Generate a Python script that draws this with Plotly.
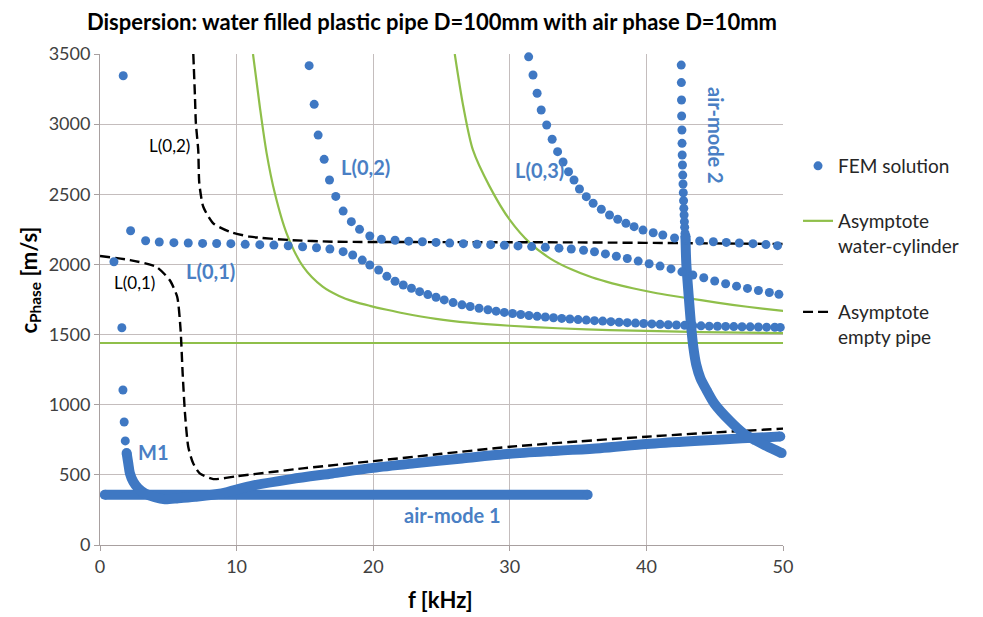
import plotly.graph_objects as go

BLUE = "#3f78c3"
LBLUE = "#4a7fc4"
GREEN = "#8fbf4a"
FONT = "Lato"

# ---------------- FEM solution: discrete dots ----------------
l01_f = [1.02, 2.24, 3.34, 4.34, 5.41, 6.46, 7.51, 8.54, 9.58, 10.63, 11.7, 12.73, 13.78, 14.83,
         15.85, 16.83, 17.8, 18.5, 19.2, 19.75, 20.4, 21.0, 21.6, 22.2, 22.8, 23.4, 24.0, 24.6,
         25.2, 25.85, 26.5, 27.1, 27.75, 28.4, 29.0, 29.6, 30.2, 30.8, 31.4, 32.0, 32.6, 33.2,
         33.8, 34.4, 35.0, 35.6, 36.2, 36.8, 37.4, 38.0, 38.6, 39.2, 39.8, 40.4, 41.0, 41.6,
         42.2, 42.8, 43.4, 44.0, 44.6, 45.2, 45.8, 46.4, 47.0, 47.6, 48.2, 48.8, 49.4, 49.8]
l01_c = [2019, 2240, 2169, 2160, 2155, 2153, 2150, 2149, 2148, 2143, 2141, 2138, 2133, 2126,
         2119, 2110, 2091, 2067, 2031, 1996, 1960, 1915, 1880, 1853, 1830, 1806, 1785, 1766,
         1747, 1728, 1712, 1700, 1688, 1677, 1667, 1658, 1650, 1643, 1636, 1630, 1625, 1620,
         1615, 1611, 1607, 1603, 1599, 1596, 1592, 1588, 1585, 1582, 1579, 1576, 1573, 1570,
         1568, 1566, 1564, 1562, 1560, 1559, 1558, 1557, 1556, 1555, 1554, 1553, 1552, 1551]

l02_f = [15.31, 15.68, 15.97, 16.41, 16.8, 17.26, 17.8, 18.4, 19.0, 19.75, 20.6, 21.6, 22.6,
         23.6, 24.6, 25.6, 26.6, 27.6, 28.6, 29.6, 30.6, 31.6, 32.6, 33.6, 34.5, 35.4, 36.2,
         37.0, 37.8, 38.6, 39.4, 40.2, 41.0, 41.8, 42.6, 43.4, 44.2, 45.0, 45.8, 46.6, 47.4,
         48.2, 49.0, 49.7]
l02_c = [3417, 3141, 2922, 2749, 2602, 2485, 2380, 2305, 2250, 2203, 2179, 2172, 2166,
         2162, 2157, 2152, 2148, 2144, 2141, 2137, 2132, 2127, 2122, 2116, 2110, 2101, 2090,
         2075, 2058, 2042, 2024, 2005, 1988, 1968, 1947, 1925, 1905, 1882, 1862, 1845, 1829,
         1814, 1800, 1787]

l03_f = [31.38, 31.7, 32.0, 32.3, 32.7, 33.1, 33.5, 33.9, 34.3, 34.7, 35.1, 35.6, 36.1, 36.7,
         37.3, 37.9, 38.5, 39.1, 39.75, 40.5, 41.2, 42.06, 42.9, 43.9, 44.9, 45.85, 46.8,
         47.8, 48.75, 49.6]
l03_c = [3480, 3350, 3220, 3101, 2994, 2892, 2804, 2730, 2661, 2602, 2538, 2483, 2436, 2393,
         2352, 2322, 2293, 2269, 2245, 2226, 2210, 2188, 2175, 2167, 2162, 2157, 2153,
         2148, 2142, 2134]

m1_f = [1.70, 1.60, 1.68, 1.77, 1.85]
m1_c = [3345, 1549, 1105, 877, 742]

air2_f = [42.55, 42.56, 42.57, 42.58, 42.60, 42.61, 42.62, 42.64, 42.66, 42.68, 42.70, 42.72,
          42.74, 42.76, 42.78, 42.80, 42.83, 42.86]
air2_c = [3421, 3296, 3172, 3058, 2958, 2863, 2780, 2709, 2637, 2573, 2511, 2454,
          2400, 2352, 2305, 2265, 2222, 2186]

# ---------------- FEM solution: dense (overlapping-dot) bands ----------------
air1_f = [0.35, 35.7]
air1_c = [358, 358]

m1band_f = [1.95, 2.07, 2.19, 2.44, 2.8, 3.29, 4.02, 4.75, 5.73, 6.95, 8.9, 11.0, 14.0, 17.0,
            20.0, 23.0, 26.5, 30.0, 33.5, 36.6, 40.0, 43.5, 47.0, 49.8]
m1band_c = [656, 582, 511, 451, 404, 368, 340, 326, 333, 344, 368, 420, 470, 510,
            550, 582, 617, 650, 672, 690, 720, 742, 760, 773]

air2band_f = [42.86, 42.92, 43.1, 43.3, 43.45, 43.65, 43.95, 44.4, 45.0, 46.1, 47.05, 48.0,
              48.8, 49.9]
air2band_c = [2200, 2008, 1770, 1533, 1400, 1285, 1190, 1105, 1005, 885, 800, 745, 705, 655]

# ---------------- Asymptotes: water cylinder ----------------
wc0_f = [0, 50.5]
wc0_c = [1440, 1440]
wc1_f = [11.2, 11.7, 12.2, 12.8, 13.66, 14.87, 16.3, 17.5, 18.6, 19.75, 21.0, 22.2, 24.6, 27.0,
         30.0, 33.5, 37.3, 44.0, 50.5]
wc1_c = [3500, 3124, 2792, 2507, 2222, 1984, 1841, 1775, 1735, 1705, 1677, 1652, 1612, 1585,
         1563, 1545, 1532, 1518, 1510]
wc2_f = [25.97, 26.6, 27.3, 28.5, 30.0, 31.5, 33.0, 34.5, 36.0, 37.5, 39.0, 40.5, 42.0, 44.0,
         46.3, 48.5, 50.5]
wc2_c = [3500, 3124, 2816, 2560, 2317, 2150, 2040, 1965, 1908, 1865, 1830, 1800, 1775, 1745,
         1712, 1685, 1663]

# ---------------- Asymptotes: empty pipe ----------------
ep1_f = [0, 2.2, 4.1, 5.1, 5.65, 5.9, 6.05, 6.22, 6.46, 6.82, 7.3, 8.3, 10, 15, 20, 25, 30,
         35, 40, 45, 50.5]
ep1_c = [2060, 2031, 1984, 1889, 1770, 1533, 1225, 940, 700, 582, 511, 470, 490, 548, 598,
         650, 700, 738, 772, 802, 832]
ep2_f = [6.83, 6.95, 7.02, 7.19, 7.27, 7.56, 8.29, 9.5, 10.97, 13.9, 17, 25, 35, 45, 50.5]
ep2_c = [3500, 3200, 3006, 2816, 2578, 2411, 2293, 2233, 2198, 2174, 2162, 2159, 2157, 2150, 2145]

x_ticks = [0, 10, 20, 30, 40, 50]
y_ticks = [0, 500, 1000, 1500, 2000, 2500, 3000, 3500]

fig = go.Figure()

# green asymptotes
for i, (fx, cy) in enumerate([(wc0_f, wc0_c), (wc1_f, wc1_c), (wc2_f, wc2_c)]):
    fig.add_trace(go.Scatter(
        x=fx, y=cy, mode="lines", line=dict(color=GREEN, width=2.2, shape="spline", smoothing=0.8),
        name="Asymptote<br>water-cylinder", legend="legend2", showlegend=(i == 0),
        hoverinfo="skip"))

# dashed asymptotes
for i, (fx, cy) in enumerate([(ep1_f, ep1_c), (ep2_f, ep2_c)]):
    fig.add_trace(go.Scatter(
        x=fx, y=cy, mode="lines",
        line=dict(color="black", width=2.4, dash="10px,5px", shape="spline", smoothing=0.6),
        name="Asymptote<br>empty pipe", legend="legend3", showlegend=(i == 0),
        hoverinfo="skip"))

# dense FEM bands
for fx, cy in [(air1_f, air1_c), (m1band_f, m1band_c), (air2band_f, air2band_c)]:
    fig.add_trace(go.Scatter(
        x=fx, y=cy, mode="lines",
        line=dict(color=BLUE, width=10, shape="spline", smoothing=0.8),
        showlegend=False, hoverinfo="skip"))
    fig.add_trace(go.Scatter(
        x=[fx[0], fx[-1]], y=[cy[0], cy[-1]], mode="markers",
        marker=dict(color=BLUE, size=10), cliponaxis=False,
        showlegend=False, hoverinfo="skip"))

# discrete FEM dots
dots = [(l01_f, l01_c), (l02_f, l02_c), (l03_f, l03_c), (m1_f, m1_c), (air2_f, air2_c)]
for i, (fx, cy) in enumerate(dots):
    fig.add_trace(go.Scatter(
        x=fx, y=cy, mode="markers", marker=dict(color=BLUE, size=9),
        cliponaxis=False, name="FEM solution", legend="legend",
        showlegend=(i == 0)))

# labels
ann = [
    dict(x=5.1, y=2845, text="L(0,2)", font=dict(size=17, color="black", family=FONT)),
    dict(x=2.56, y=1868, text="L(0,1)", font=dict(size=17, color="black", family=FONT)),
    dict(x=8.1, y=1953, text="<b>L(0,1)</b>", font=dict(size=20, color=LBLUE, family=FONT)),
    dict(x=19.45, y=2694, text="<b>L(0,2)</b>", font=dict(size=20, color=LBLUE, family=FONT)),
    dict(x=32.2, y=2673, text="<b>L(0,3)</b>", font=dict(size=20, color=LBLUE, family=FONT)),
    dict(x=3.88, y=663, text="<b>M1</b>", font=dict(size=20, color=LBLUE, family=FONT)),
    dict(x=25.8, y=214, text="<b>air-mode 1</b>", font=dict(size=20, color=LBLUE, family=FONT)),
    dict(x=45.1, y=2922, text="<b>air-mode 2</b>", textangle=90,
         font=dict(size=20, color=LBLUE, family=FONT)),
]
for a in ann:
    fig.add_annotation(xref="x", yref="y", showarrow=False, **a)

# axis titles as text
fig.add_annotation(xref="paper", yref="paper", x=-0.103, y=0.54, xanchor="center", yanchor="middle",
                   text="<b>c<sub>Phase</sub> [m/s]</b>", textangle=-90, showarrow=False,
                   font=dict(size=22, color="black", family=FONT))
fig.add_annotation(xref="paper", yref="paper", x=0.498, y=-0.112, xanchor="center",
                   yanchor="middle", text="<b>f [kHz]</b>", showarrow=False,
                   font=dict(size=22, color="black", family=FONT))

GRID = "#c4bdbd"
leg_common = dict(xanchor="left", yanchor="top", x=1.022, valign="top",
                  bgcolor="rgba(0,0,0,0)", itemsizing="trace",
                  font=dict(size=19, color="#262626", family=FONT))
fig.update_layout(
    width=983, height=617,
    margin=dict(l=92, r=208, t=46, b=80),
    paper_bgcolor="white", plot_bgcolor="white",
    font=dict(family=FONT, color="#404040"),
    title=dict(text="<b>Dispersion: water filled plastic pipe D=100mm with air phase D=10mm</b>",
               x=0.4313, xanchor="center", y=0.9765, yanchor="middle",
               font=dict(size=22, color="black", family=FONT)),
    showlegend=True,
    legend=dict(y=0.8106, **leg_common),
    legend2=dict(y=0.6986, **leg_common),
    legend3=dict(y=0.5132, **leg_common),
    xaxis=dict(range=[0, 50], tickvals=x_ticks, showgrid=True, gridcolor=GRID, gridwidth=1,
               zeroline=False, showline=True, linecolor="#a8a0a0", ticks="outside",
               ticklen=5, tickcolor="#a8a0a0", tickfont=dict(size=18, color="#404040")),
    yaxis=dict(range=[0, 3500], tickvals=y_ticks, showgrid=True, gridcolor=GRID, gridwidth=1,
               zeroline=False, showline=True, linecolor="#a8a0a0", ticks="outside",
               ticklen=5, tickcolor="#a8a0a0", tickfont=dict(size=18, color="#404040")),
)

fig.write_html("out.html")
